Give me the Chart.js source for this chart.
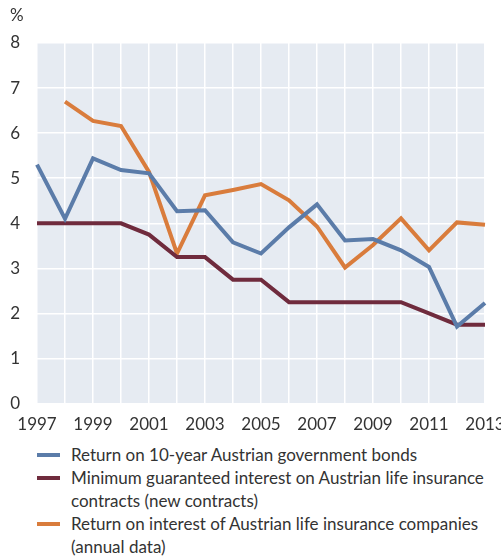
<!DOCTYPE html>
<html lang="en">
  <head>
    <meta charset="UTF-8" />
    <title>Austrian life insurance returns</title>
    <script src="https://cdn.jsdelivr.net/npm/chart.js"></script>
    <style>
      body { margin: 0; background: #fff; font-family: "Lato", sans-serif; color: #333; }
      #wrap { position: relative; width: 501px; height: 446px; }
      #unit { position: absolute; left: 10px; top: 4px; font-size: 17px; }
      #legend { margin: -3px 0 0 37px; width: 452px; font-size: 17px; line-height: 23px; }
      .item { display: flex; align-items: flex-start; }
      .swatch { flex: none; width: 23px; height: 4px; margin: 10px 11px 0 0; }
    </style>
  </head>
  <body>
    <div id="wrap">
      <span id="unit">%</span>
      <canvas id="chart" width="501" height="446"></canvas>
    </div>
    <div id="legend"></div>

    <script>
      // data
      const years = [1997, 1998, 1999, 2000, 2001, 2002, 2003, 2004, 2005,
                     2006, 2007, 2008, 2009, 2010, 2011, 2012, 2013];
      const bondReturn = [5.3, 4.1, 5.44, 5.18, 5.11, 4.27, 4.29, 3.58, 3.33,
                          3.91, 4.42, 3.62, 3.65, 3.4, 3.03, 1.71, 2.23];
      const minGuaranteed = [4.0, 4.0, 4.0, 4.0, 3.75, 3.25, 3.25, 2.75, 2.75,
                             2.25, 2.25, 2.25, 2.25, 2.25, 2.0, 1.75, 1.75];
      const insurerReturn = [null, 6.7, 6.27, 6.16, 5.14, 3.33, 4.62, 4.74, 4.87,
                             4.51, 3.93, 3.02, 3.52, 4.11, 3.4, 4.02, 3.97];
      const seriesNames = [
        "Return on 10-year Austrian government bonds",
        "Minimum guaranteed interest on Austrian life insurance contracts (new contracts)",
        "Return on interest of Austrian life insurance companies (annual data)",
      ];
      const seriesColors = ["#5b7ca9", "#6f2b3d", "#d97c3c"];

      // plot area background
      const plotBg = {
        id: "plotBg",
        beforeDraw(chart) {
          const a = chart.chartArea;
          const ctx = chart.ctx;
          ctx.save();
          ctx.fillStyle = "#e6ebf2";
          ctx.fillRect(a.left, a.top, a.right - a.left, a.bottom - a.top);
          ctx.restore();
        },
      };

      const series = [bondReturn, minGuaranteed, insurerReturn];
      const chart = new Chart(document.getElementById("chart"), {
        type: "line",
        data: {
          labels: years.map(String),
          datasets: series.map((d, i) => ({
            label: seriesNames[i],
            data: d,
            borderColor: seriesColors[i],
            borderWidth: 4,
            pointRadius: 0,
            tension: 0,
            fill: false,
          })),
        },
        options: {
          responsive: false,
          animation: false,
          layout: { padding: { top: 43, right: 0, left: 0, bottom: 0 } },
          plugins: { legend: { display: false }, tooltip: { enabled: false } },
          scales: {
            x: {
              grid: { color: "#ffffff", lineWidth: 1.5, drawTicks: false },
              border: { display: false },
              afterFit(scale) { scale.paddingLeft = 0; scale.paddingRight = 16; },
              ticks: {
                autoSkip: false,
                maxRotation: 0,
                padding: 11,
                color: "#333",
                font: { family: "Lato", size: 17 },
                callback: function (v, i) { return i % 2 === 0 ? this.getLabelForValue(v) : ""; },
              },
            },
            y: {
              min: 0,
              max: 8,
              grid: { color: "#ffffff", lineWidth: 1.5, drawTicks: false },
              border: { display: false },
              afterFit(scale) { scale.width = 37; },
              ticks: {
                stepSize: 1,
                padding: 17,
                color: "#333",
                font: { family: "Lato", size: 17 },
              },
            },
          },
        },
        plugins: [plotBg],
      });

      // legend
      const legend = document.getElementById("legend");
      seriesNames.forEach((name, i) => {
        const row = document.createElement("div");
        row.className = "item";
        const sw = document.createElement("span");
        sw.className = "swatch";
        sw.style.background = seriesColors[i];
        const txt = document.createElement("span");
        txt.textContent = name;
        row.appendChild(sw);
        row.appendChild(txt);
        legend.appendChild(row);
      });
    </script>
  </body>
</html>
